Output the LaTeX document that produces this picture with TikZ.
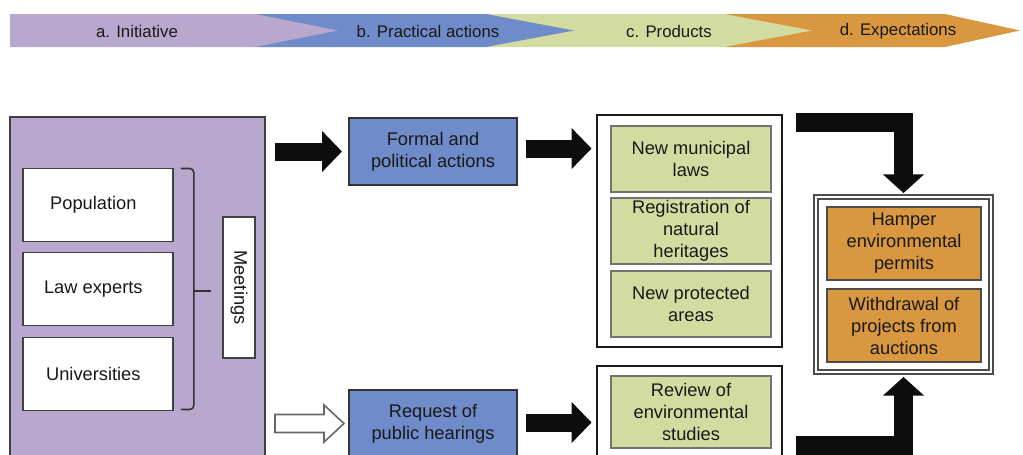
\documentclass[tikz,border=0pt]{standalone}
\usepackage{fontspec}
\setmainfont{Liberation Sans}
\usepackage{xcolor}
\usetikzlibrary{arrows.meta,calc}
\definecolor{initcol}{HTML}{B8A8CE}
\definecolor{actcol}{HTML}{6F8BC9}
\definecolor{prodcol}{HTML}{D2DCA1}
\definecolor{expcol}{HTML}{D9973F}
\begin{document}
\begin{tikzpicture}[x=0.75pt,y=-0.75pt,
    every node/.style={font=\fontsize{13.7}{16.5}\selectfont,text=black!90,align=center,inner sep=0pt},
    tag/.style={font=\fontsize{12.6}{14}\selectfont},
    whitebox/.style={draw=black!75,line width=1.2pt,fill=white},
    actbox/.style={draw=black!80,line width=1.5pt,fill=actcol,minimum width=126pt,minimum height=50.25pt},
    prodbox/.style={draw=black!55,line width=1.5pt,fill=prodcol,minimum width=120pt,minimum height=49.5pt},
    expbox/.style={draw=black!70,line width=1.5pt,fill=expcol,minimum width=115.5pt,minimum height=54.75pt},
    frame/.style={draw=black!90,line width=2.2pt,fill=white},
    blockarrow/.style={draw=black!95,line width=13.5pt,-{Triangle[width=30pt,length=15pt]}},
    elbowarrow/.style={draw=black!95,line width=14.25pt,line join=miter,-{Triangle[width=30pt,length=14pt]}},
    hollowarrow/.style={draw=black!60,line width=1.2pt,fill=white}]
    %
    \useasboundingbox (0,0) rectangle (1023,454);
    \clip (0,0) rectangle (1023,454);
    %
    \fill[expcol] (724,14) -- (945,14) -- (1020,30.5) -- (945,47) -- (724,47) -- cycle;
    \fill[prodcol] (486,14) -- (724,14) -- (812,30.5) -- (724,47) -- (486,47) -- cycle;
    \fill[actcol] (255,14) -- (486,14) -- (574,30.5) -- (486,47) -- (255,47) -- cycle;
    \fill[initcol] (10,14) -- (255,14) -- (338,30.5) -- (255,47) -- (10,47) -- cycle;
    \node[tag] (ta) at (137,31) {a. Initiative};
    \node[tag] (tb) at (428,31) {b. Practical actions};
    \node[tag] (tc) at (669,31) {c. Products};
    \node[tag] (td) at (898,31) {d. Expectations};
    %
    \node[draw=black!75,line width=1.5pt,fill=initcol,minimum width=191.25pt,minimum height=268.5pt] (init) at (137.5,296) {};
    \node[whitebox,minimum width=112.5pt,minimum height=55pt] (pop) at (98,205) {Population\hspace{7pt}};
    \node[whitebox,minimum width=112.5pt,minimum height=55pt] (law) at (98,289) {Law experts\hspace{7pt}};
    \node[whitebox,minimum width=112.5pt,minimum height=55pt] (univ) at (98,374) {Universities\hspace{7pt}};
    \node[whitebox,rotate=-90,minimum width=105.75pt,minimum height=24pt] (meet) at (239,287.5) {Meetings};
    \draw[black!80,line width=1.2pt,rounded corners=3pt] ($(pop.north east)+(7,1)$) -- ++(13,0) -- ($(univ.south east)+(20,-2)$) -- ++(-13,0);
    \coordinate (brk) at ($(law.east)+(20,2)$);
    \draw[black!80,line width=1.2pt] (brk) -- ++(17,0);
    %
    \node[actbox] (formal) at (433,151.5) {Formal and\\political actions};
    \node[actbox] (request) at (433,423.5) {Request of\\public hearings};
    %
    \node[frame,minimum width=138.75pt,minimum height=174pt] (prodA) at (689.5,231) {};
    \node[prodbox] (laws) at (691,159) {New municipal\\laws};
    \node[prodbox] (reg) at (691,231) {Registration of\\natural\\heritages};
    \node[prodbox] (prot) at (691,304) {New protected\\areas};
    \node[frame,minimum width=138.75pt,minimum height=175.5pt] (prodB) at (689.5,483) {};
    \node[prodbox,minimum height=54pt] (review) at (691,412) {Review of\\environmental\\studies};
    %
    \node[draw=black!70,line width=1.4pt,double=white,double distance=1.1pt,fill=white,minimum width=131.25pt,minimum height=131.25pt] (expect) at (903.5,284.5) {};
    \node[expbox] (hamper) at (904,243.5) {Hamper\\environmental\\permits};
    \node[expbox] (withdraw) at (904,325.5) {Withdrawal of\\projects from\\auctions};
    %
    \draw[blockarrow,shorten <=6.75pt,shorten >=4.5pt] (init.east |- formal.west) -- (formal.west);
    \draw[blockarrow,shorten <=6pt,shorten >=3pt] ($(formal.east)+(0,-3)$) -- ($(formal.east -| prodA.west)+(0,-3)$);
    \draw[blockarrow,shorten <=6pt,shorten >=3pt] ($(request.east)+(0,-1)$) -- ($(request.east -| prodB.west)+(0,-1)$);
    \coordinate (hs) at ($(init.east |- request.west)+(9,0)$);
    \draw[hollowarrow] ($(hs)+(0,-9)$) -- ++(49,0) -- ++(0,-9.5) -- ++(20,18.5) -- ++(-20,18.5) -- ++(0,-9.5) -- ++(-49,0) -- cycle;
    %
    \draw[elbowarrow,shorten >=2.25pt] ($(prodA.north east)+(13,8.5)$) -| (expect.north);
    \draw[elbowarrow,shorten >=3pt] ($(prodB.north east)+(13,80.5)$) -| (expect.south);
    %
\end{tikzpicture}
\end{document}
